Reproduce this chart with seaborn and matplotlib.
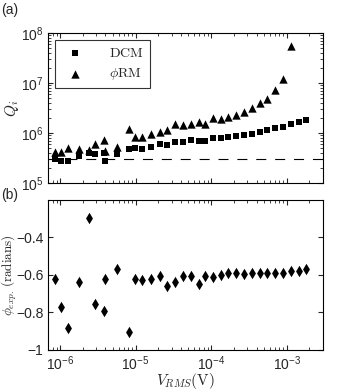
import numpy as np
import matplotlib
matplotlib.use("Agg")
import matplotlib.pyplot as plt
import seaborn as sns

# drive amplitude (V)
v_rms = [8.6e-7, 1.02e-6, 1.28e-6, 1.78e-6, 2.44e-6, 2.93e-6, 3.78e-6, 3.94e-6,
         5.67e-6, 8.1e-6, 9.9e-6, 1.22e-5, 1.6e-5, 2.1e-5, 2.58e-5, 3.32e-5,
         4.2e-5, 5.36e-5, 6.84e-5, 8.36e-5, 1.07e-4, 1.34e-4, 1.68e-4, 2.13e-4,
         2.72e-4, 3.47e-4, 4.42e-4, 5.52e-4, 6.98e-4, 8.83e-4, 1.13e-3, 1.44e-3,
         1.83e-3]

q_dcm = [2.98e5, 2.72e5, 2.75e5, 3.47e5, 3.93e5, 3.8e5, 3.93e5, 2.72e5,
         3.8e5, 4.79e5, 4.94e5, 4.79e5, 5.32e5, 6.03e5, 5.68e5, 6.7e5,
         6.7e5, 7.24e5, 7.02e5, 7.02e5, 7.83e5, 7.83e5, 8.43e5, 8.71e5,
         9.12e5, 9.55e5, 1.06e6, 1.15e6, 1.24e6, 1.34e6, 1.49e6, 1.68e6,
         1.82e6]

q_phirm = [4.23e5, 4.23e5, 5.0e5, 4.72e5, 4.57e5, 6.03e5, 7.24e5, 4.37e5,
           5.32e5, 1.2e6, 8.43e5, 8.13e5, 9.42e5, 1.06e6, 1.15e6, 1.51e6,
           1.43e6, 1.51e6, 1.64e6, 1.49e6, 1.97e6, 1.91e6, 2.12e6, 2.29e6,
           2.67e6, 3.21e6, 3.93e6, 4.85e6, 7.24e6, 1.22e7, 5.5e7, np.nan,
           np.nan]

phi_exp = [-0.623, -0.769, -0.881, -0.636, -0.298, -0.755, -0.794, -0.623,
           -0.568, -0.902, -0.623, -0.628, -0.623, -0.604, -0.657, -0.636,
           -0.605, -0.604, -0.650, -0.605, -0.609, -0.602, -0.591, -0.591,
           -0.596, -0.591, -0.591, -0.591, -0.591, -0.588, -0.579, -0.577,
           -0.568]

q_ref = 3e5

sns.set_style("ticks")
plt.rcParams.update({
    "font.family": ["Liberation Sans", "DejaVu Sans"],
    "mathtext.fontset": "cm",
    "font.size": 10,
    "xtick.direction": "in",
    "ytick.direction": "in",
    "xtick.top": True,
    "ytick.right": True,
    "axes.edgecolor": "black",
    "axes.linewidth": 0.8,
})

fig = plt.figure(figsize=(3.39, 3.91), dpi=100)
ax1 = fig.add_axes([0.1425, 0.532, 0.811, 0.3836])
ax2 = fig.add_axes([0.1425, 0.1049, 0.811, 0.3836])

sns.scatterplot(x=v_rms, y=q_dcm, marker="s", color="black", s=22, linewidth=0,
                label=r"$\mathrm{DCM}$", ax=ax1)
sns.scatterplot(x=v_rms, y=q_phirm, marker="^", color="black", s=36, linewidth=0,
                label=r"$\phi\mathrm{RM}$", ax=ax1)
ax1.axhline(q_ref, color="black", linestyle=(0, (9, 8)), linewidth=0.8)
ax1.set_xscale("log")
ax1.set_yscale("log")
ax1.set_xlim(7e-7, 3.05e-3)
ax1.set_ylim(1e5, 1e8)
ax1.set_yticks([1e5, 1e6, 1e7, 1e8])
ax1.tick_params(labelbottom=False, labelsize=10)
ax1.set_ylabel(r"$Q_i$", fontsize=11)
ax1.yaxis.set_label_coords(-0.1, 0.5)
leg = ax1.legend(loc="upper left", frameon=True, fancybox=False, fontsize=10,
                 edgecolor="black", handletextpad=1.5, borderpad=0.4)
leg.get_frame().set_linewidth(0.8)

sns.scatterplot(x=v_rms, y=phi_exp, marker="d", color="black", s=34, linewidth=0,
                ax=ax2)
ax2.set_xscale("log")
ax2.set_xlim(7e-7, 3.05e-3)
ax2.set_ylim(-1, -0.2)
ax2.set_yticks([-1, -0.8, -0.6, -0.4])
ax2.set_yticklabels(["\u22121", "\u22120.8", "\u22120.6", "\u22120.4"])
ax2.set_xticks([1e-6, 1e-5, 1e-4, 1e-3])
ax2.tick_params(labelsize=10)
ax2.set_ylabel(r"$\phi_{exp.}\,(\mathrm{radians})$", fontsize=9.5)
ax2.yaxis.set_label_coords(-0.108, 0.5)
ax2.set_xlabel(r"$V_{RMS}(\mathrm{V})$", fontsize=11)
ax2.xaxis.set_label_coords(0.5, -0.14)

for ax in (ax1, ax2):
    for sp in ax.spines.values():
        sp.set_visible(True)
    ax.tick_params(which="both", direction="in", top=True, right=True)

fig.text(0.003, 0.965, "(a)", fontsize=10)
fig.text(0.003, 0.49, "(b)", fontsize=10)

fig.savefig("out.png", dpi=100)
